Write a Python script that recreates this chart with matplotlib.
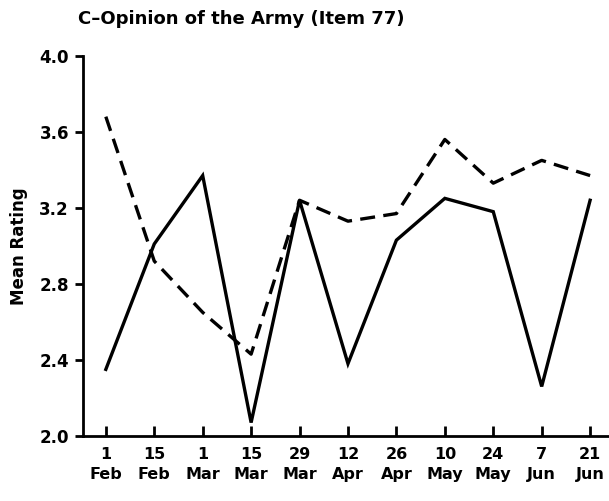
import matplotlib.pyplot as plt

plt.rcParams['font.family'] = ['DejaVu Sans']
plt.rcParams['font.weight'] = 'bold'

days = ['1', '15', '1', '15', '29', '12', '26', '10', '24', '7', '21']
months = ['Feb', 'Feb', 'Mar', 'Mar', 'Mar', 'Apr', 'Apr', 'May', 'May', 'Jun', 'Jun']
solid = [2.35, 3.01, 3.37, 2.07, 3.24, 2.38, 3.03, 3.25, 3.18, 2.26, 3.24]
dashed = [3.68, 2.92, 2.65, 2.43, 3.24, 3.13, 3.17, 3.56, 3.33, 3.45, 3.37]
yticks = [2.0, 2.4, 2.8, 3.2, 3.6, 4.0]

fig = plt.figure(figsize=(6.09, 5.01), dpi=100)
ax = fig.add_axes([0.136, 0.13, 0.864, 0.7585])

x = list(range(len(days)))
ax.plot(x, solid, color='black', lw=2.4, solid_joinstyle='miter')
ax.plot(x, dashed, color='black', lw=2.4, dashes=(4.5, 2.5))

ax.set_xlim(-0.475, 10.39)
ax.set_ylim(2.0, 4.0)
ax.set_yticks(yticks)
ax.set_yticklabels([f'{v:.1f}' for v in yticks], fontsize=12, fontweight='bold')
ax.set_xticks(x)
ax.set_xticklabels([f'{d}\n{m}' for d, m in zip(days, months)], fontsize=11.5,
                   fontweight='bold', linespacing=1.45)

for s in ['top', 'right']:
    ax.spines[s].set_visible(False)
for s in ['left', 'bottom']:
    ax.spines[s].set_linewidth(2)
ax.tick_params(axis='y', direction='out', length=6, width=2, pad=4)
ax.tick_params(axis='x', direction='in', length=7, width=2, pad=8)

ax.set_ylabel('Mean Rating', fontsize=12, fontweight='bold', labelpad=8)
fig.text(0.128, 0.962, 'C\u2013Opinion of the Army (Item 77)', fontsize=13,
         fontweight='bold', va='center', ha='left')

fig.savefig('out.png', dpi=100)
